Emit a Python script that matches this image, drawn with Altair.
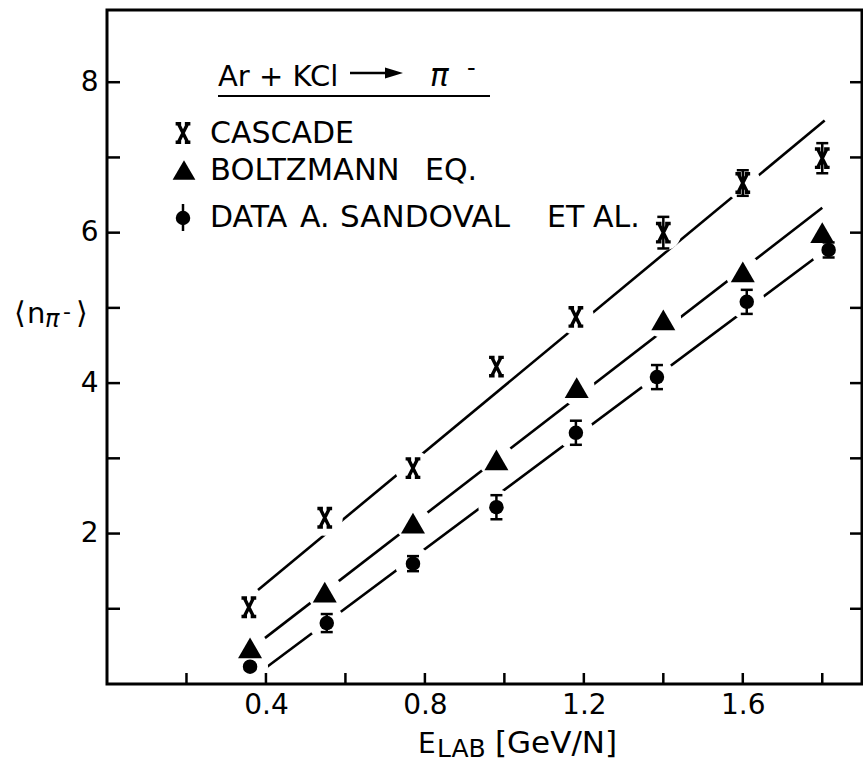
import altair as alt
import pandas as pd

FONT = "DejaVu Sans"

# ---- data ----
E_cascade = [0.357, 0.548, 0.770, 0.980, 1.180, 1.400, 1.600, 1.800]
N_cascade = [1.02, 2.21, 2.87, 4.22, 4.88, 6.00, 6.66, 6.99]
err_cascade = [0, 0, 0, 0, 0, 0.21, 0.17, 0.20]

E_boltz = [0.360, 0.548, 0.770, 0.980, 1.182, 1.400, 1.600, 1.800]
N_boltz = [0.48, 1.22, 2.14, 2.98, 3.94, 4.84, 5.48, 6.00]
err_boltz = [0, 0, 0, 0, 0, 0, 0, 0]

E_data = [0.360, 0.553, 0.770, 0.980, 1.180, 1.384, 1.610, 1.816]
N_data = [0.23, 0.81, 1.60, 2.35, 3.34, 4.08, 5.08, 5.77]
err_data = [0, 0.12, 0.10, 0.16, 0.16, 0.16, 0.16, 0.10]

fit_cascade_E = [0.380, 1.806]
fit_cascade_N = [1.25, 7.49]
fit_boltz_E = [0.385, 1.800]
fit_boltz_N = [0.56, 6.33]
fit_data_E = [0.398, 1.786]
fit_data_N = [0.21, 5.68]

x_ticks = [0.2, 0.4, 0.6, 0.8, 1.0, 1.2, 1.4, 1.6, 1.8]
x_labels = [0.4, 0.8, 1.2, 1.6]
y_ticks = [1, 2, 3, 4, 5, 6, 7, 8]
y_labels = [2, 4, 6, 8]

legend_words = [["CASCADE"], ["BOLTZMANN", "EQ."], ["DATA", "A.", "SANDOVAL", "ET", "AL."]]

# ---- tables ----
rows = []
for name, E, N, S in [("CASCADE", E_cascade, N_cascade, err_cascade),
                      ("BOLTZMANN", E_boltz, N_boltz, err_boltz),
                      ("DATA", E_data, N_data, err_data)]:
    for e, n, s in zip(E, N, S):
        rows.append({"series": name, "E": e, "N": n, "lo": n - s, "hi": n + s, "err": s})
pts = pd.DataFrame(rows)

frows = []
for name, E, N in [("CASCADE", fit_cascade_E, fit_cascade_N),
                   ("BOLTZMANN", fit_boltz_E, fit_boltz_N),
                   ("DATA", fit_data_E, fit_data_N)]:
    for e, n in zip(E, N):
        frows.append({"series": name, "E": e, "N": n})
fits = pd.DataFrame(frows)

W, H = 755, 674
xs = alt.Scale(domain=[0, 1.9], nice=False, zero=False)
ys = alt.Scale(domain=[0, 8.96], nice=False, zero=False)

xaxis = alt.Axis(values=x_labels, format=".1f", ticks=False, domain=False, grid=False,
                 labelFontSize=28, labelFont=FONT, labelColor="black", labelPadding=7,
                 title="")
yaxis = alt.Axis(values=y_labels, format="d", ticks=False, domain=False, grid=False,
                 labelFontSize=28, labelFont=FONT, labelColor="black", labelPadding=9,
                 title="")


def xq(f):
    return alt.X(f + ":Q", scale=xs, axis=xaxis)


def yq(f):
    return alt.Y(f + ":Q", scale=ys, axis=yaxis)


lines = alt.Chart(fits).mark_line(color="black", strokeWidth=2.6).encode(
    x=xq("E"), y=yq("N"), detail="series:N")

halo = alt.Chart(pts).mark_point(shape="circle", filled=True, fill="white",
                                  strokeWidth=0, size=1296, opacity=1).encode(
    x=xq("E"), y=yq("N"))

err = pts[pts["err"] > 0]
bars = alt.Chart(err).mark_rule(color="black", strokeWidth=2.5).encode(
    x=xq("E"), y=yq("lo"), y2="hi:Q")
caps_lo = alt.Chart(err).mark_tick(orient="horizontal", size=12, thickness=2.5,
                                   color="black", opacity=1).encode(x=xq("E"), y=yq("lo"))
caps_hi = alt.Chart(err).mark_tick(orient="horizontal", size=12, thickness=2.5,
                                   color="black", opacity=1).encode(x=xq("E"), y=yq("hi"))

XPATH = ("M-0.5,-1 L0.5,1 M0.5,-1 L-0.5,1 "
         "M-0.8,-1 L-0.2,-1 M0.2,-1 L0.8,-1 M-0.8,1 L-0.2,1 M0.2,1 L0.8,1")

m_cascade = alt.Chart(pts[pts.series == "CASCADE"]).mark_point(
    shape=XPATH, filled=False, stroke="black", strokeWidth=3.4, size=340, opacity=1).encode(
    x=xq("E"), y=yq("N"))
m_boltz = alt.Chart(pts[pts.series == "BOLTZMANN"]).mark_point(
    shape="triangle-up", filled=True, color="black", size=576, opacity=1).encode(
    x=xq("E"), y=yq("N"))
m_data = alt.Chart(pts[pts.series == "DATA"]).mark_point(
    shape="circle", filled=True, color="black", size=210, opacity=1).encode(
    x=xq("E"), y=yq("N"))

tick_x = alt.Chart(pd.DataFrame({"E": x_ticks})).mark_rule(color="black", strokeWidth=2.5).encode(
    x=xq("E"), y=alt.value(H), y2=alt.value(H - 11))
tick_yl = alt.Chart(pd.DataFrame({"N": y_ticks})).mark_rule(color="black", strokeWidth=2.5).encode(
    y=yq("N"), x=alt.value(0), x2=alt.value(13))
tick_yr = alt.Chart(pd.DataFrame({"N": y_ticks})).mark_rule(color="black", strokeWidth=2.5).encode(
    y=yq("N"), x=alt.value(W - 12), x2=alt.value(W))

one = pd.DataFrame({"k": [0]})
frame = alt.Chart(one).mark_rect(filled=False, stroke="black", strokeWidth=3).encode(
    x=alt.value(0), x2=alt.value(W), y=alt.value(0), y2=alt.value(H))


def txt(t, X, Y, size, style="normal", align="left", baseline="alphabetic"):
    return alt.Chart(pd.DataFrame({"t": [t]})).mark_text(
        align=align, baseline=baseline, fontSize=size, font=FONT, fontStyle=style,
        color="black").encode(text="t:N", x=alt.value(X), y=alt.value(Y))


texts = [
    # reaction title
    txt("Ar + KCl", 111, 76, 29),
    txt("π", 323, 76, 31, style="italic"),
    txt("-", 360, 66, 24),
    # legend
    txt(legend_words[0][0], 103, 133, 30),
    txt(legend_words[1][0], 103, 170, 30.5),
    txt(legend_words[1][1], 318, 170, 30),
    txt(legend_words[2][0], 103, 217, 30),
    txt(legend_words[2][1], 193, 217, 30),
    txt(legend_words[2][2], 233, 217, 31),
    txt(legend_words[2][3], 440, 217, 30),
    txt(legend_words[2][4], 486, 217, 30),
    # y title
    txt("⟨", -93, 313, 30),
    txt("n", -80, 313, 29),
    txt("π", -62, 317, 24, style="italic"),
    txt("-", -44, 309, 22),
    txt("⟩", -31, 313, 30),
    # x title
    txt("E", 311, 743, 28),
    txt("LAB", 330, 747, 25),
    txt("[GeV/N]", 388, 743, 31),
]

underline = alt.Chart(one).mark_rule(color="black", strokeWidth=2).encode(
    x=alt.value(111), x2=alt.value(383), y=alt.value(86))
arrow_shaft = alt.Chart(one).mark_rule(color="black", strokeWidth=2.5).encode(
    x=alt.value(243), x2=alt.value(282), y=alt.value(63))
arrow_head = alt.Chart(one).mark_point(shape="M-1,-0.6 L1,0 L-1,0.6 Z", filled=True,
                                       color="black", size=324, opacity=1).encode(
    x=alt.value(287), y=alt.value(63))

leg_x = alt.Chart(one).mark_point(shape=XPATH, filled=False, stroke="black", strokeWidth=3.4,
                                  size=340, opacity=1).encode(x=alt.value(76), y=alt.value(123))
leg_tri = alt.Chart(one).mark_point(shape="triangle-up", filled=True, color="black",
                                    size=520, opacity=1).encode(x=alt.value(77), y=alt.value(160))
leg_bar = alt.Chart(one).mark_rule(color="black", strokeWidth=2.5).encode(
    x=alt.value(76), y=alt.value(194), y2=alt.value(221))
leg_dot = alt.Chart(one).mark_point(shape="circle", filled=True, color="black",
                                    size=210, opacity=1).encode(x=alt.value(76), y=alt.value(208))

chart = alt.layer(
    lines, halo, bars, caps_lo, caps_hi, m_cascade, m_boltz, m_data,
    tick_x, tick_yl, tick_yr, frame, underline, arrow_shaft, arrow_head,
    leg_x, leg_tri, leg_bar, leg_dot, *texts
).properties(
    width=W, height=H,
    padding={"left": 107, "top": 10, "right": 1, "bottom": 78},
    autosize=alt.AutoSizeParams(type="none"),
    background="white",
).configure_view(strokeWidth=0)

chart.save("out.html", embed_options={"renderer": "svg", "actions": False})
